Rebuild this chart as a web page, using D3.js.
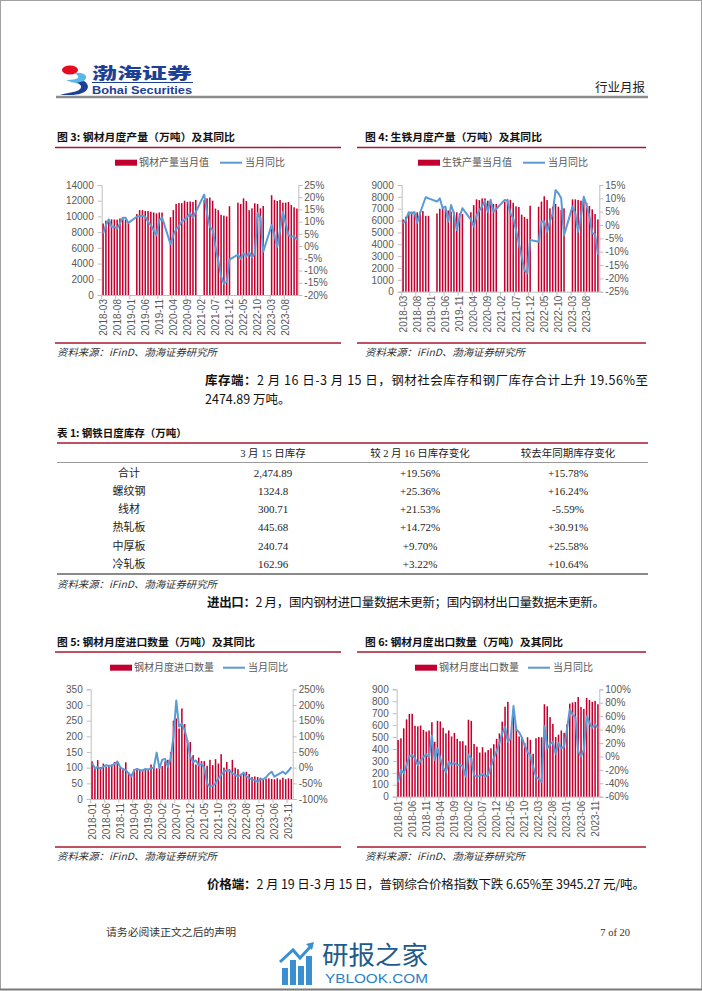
<!DOCTYPE html>
<html>
<head>
<meta charset="utf-8">
<script src="https://cdn.jsdelivr.net/npm/d3@7"></script>
<style>
body { margin: 0; background: #fff; }
svg { display: block; }
</style>
</head>
<body>
<svg id="page" width="702" height="991"></svg>
<script>
// ---- data ----
// fig 3: steel products output, 2018-03 .. 2023-12 (Jan/Feb not published)
const steelOutStart = [2018, 3];
const steelOut = [
  9100, 9460, 9630, 9630, 9600, 9600, 9750, 9900, 9600, 9300,
  null, null, 10300, 10800, 10800, 10700, 10700, 10600, 10500, 10400, 10500, 10500,
  null, null, 9900, 10800, 11600, 11700, 11700, 12000, 11850, 11900, 11850, 12100,
  null, null, 12100, 12300, 12400, 12000, 11000, 10800, 10200, 10100, 10000, 11300,
  null, null, 11750, 11580, 12300, 11970, 10800, 11030, 11670, 11580, 11030, 11330,
  null, null, 12700, 12100, 11960, 12100, 11750, 11750, 11840, 11450, 11160, 11000
];
const steelOutYoy = [
  5.2, 8.6, 10.9, 7.9, 7.9, 7.2, 9.3, 11.6, 11.6, 9.5,
  null, null, 12.0, 12.2, 12.4, 12.0, 10.0, 8.5, 6.5, 4.5, 10.6, 11.7,
  null, null, 0.8, 4.5, 6.8, 8.2, 10.0, 10.9, 12.0, 13.4, 11.7, 14.0,
  null, null, 21.1, 13.4, 7.9, 6.5, -0.3, -5.7, -12.5, -15.3, -14.6, -5.5,
  null, null, -3.5, -5.2, -3.0, -4.2, -2.5, -4.6, -3.0, 13.4, 11.7, -2.3,
  null, null, 8.6, 4.5, -0.3, 6.5, 14.0, 9.3, 4.5, 3.8, 4.1, 2.5
];

// fig 4: pig iron output
const ironOutStart = [2018, 3];
const ironOut = [
  6100, 6330, 6600, 6750, 6750, 6700, 6750, 6800, 6400, 6400,
  null, null, 6600, 7000, 7030, 7000, 6850, 6750, 6750, 6700, 6600, 6550,
  null, null, 6700, 7300, 7790, 7730, 7870, 7870, 7680, 7600, 7400, 7400,
  null, null, 7600, 7800, 7750, 7500, 7200, 7150, 6500, 6300, 6150, 7250,
  null, null, 7170, 7600, 8050, 7730, 7030, 7170, 7400, 7170, 6890, 7030,
  null, null, 7790, 7790, 7730, 7680, 7680, 7500, 7230, 6950, 6550, 6100
];
const ironOutYoy = [
  0.6, 1.9, 4.8, 4.4, 4.8, 0.9, 4.4, 7.5, 10.4, 10.0,
  null, null, 8.8, 10.0, 6.3, 6.9, 1.3, 7.5, 4.4, -1.9, 3.1, 6.3,
  null, null, 2.0, -0.5, 3.5, 5.5, 7.0, 9.0, 5.0, 9.5, 5.0, 6.0,
  null, null, 9.4, 9.1, 4.4, 2.5, -1.9, -6.9, -11.9, -16.9, -18.1, -5.6,
  null, null, -6.3, 1.3, 1.3, -2.5, 1.3, 4.4, 13.1, 11.9, 10.0, -3.8,
  null, null, 6.9, 4.4, -2.5, 3.1, 10.6, 7.5, 3.0, -3.0, -3.5, -11.0
];

// fig 5: steel imports, 2018-01 .. 2023-12
const importStart = [2018, 1];
const imports = [
  120, 100, 124, 102, 113, 103, 108, 110, 118, 120, 100, 98,
  117, 85, 80, 95, 97, 93, 90, 95, 95, 110, 105, 98,
  100, 105, 120, 125, 150, 250, 257, 225, 289, 239, 188, 182,
  140, 110, 132, 121, 121, 106, 125, 108, 127, 113, 143, 100,
  118, 95, 125, 100, 95, 80, 82, 87, 80, 70, 72, 70,
  68, 62, 65, 66, 64, 63, 66, 62, 68, 63, 66, 64
];
const importsYoy = [
  15, -2, 2, -3, 3, 8, 6, 6, 12, 20, 2, -5,
  -8, -18, -28, -8, -4, -7, -9, -4, -6, -2, 0, 48,
  -2, 25, 28, 3, 30, 99, 214, 131, 141, 120, 83, 35,
  18, 23, 8, 12, 0, -50, -61, -58, -50, -34, -23, -13,
  -8, -10, -18, -23, -28, -23, -16, -28, -33, -38, -40, -45,
  -37, -37, -31, -20, -13, -29, -23, -18, -13, -20, -10, 2
];

// fig 6: steel exports
const exportStart = [2018, 1];
const exports = [
  475, 489, 573, 648, 693, 695, 594, 590, 597, 560, 545, 555,
  624, 460, 636, 631, 578, 531, 555, 505, 535, 485, 465, 465,
  430, 645, 635, 442, 419, 370, 415, 372, 391, 405, 440, 485,
  531, 629, 754, 795, 527, 687, 566, 505, 495, 449, 498, 476,
  360, 490, 500, 498, 775, 757, 667, 611, 500, 520, 555, 535,
  605, 780, 790, 794, 836, 752, 736, 828, 810, 795, 803, 775
];
const exportsYoy = [
  -38, -20, -25, -13, 0, 2, -3, -13, -6, -1, 3, -1,
  31, -5, 12, -3, -17, -23, -8, -12, -10, -13, -12, -15,
  -30, 2, -3, -28, -30, -29, -26, -30, -28, -15, -2, 8,
  20, 34, 44, 22, 27, 75, 40, 36, 28, 16, 6, 2,
  -16, -30, -34, -38, 45, 12, 18, 22, 4, 20, 12, 15,
  40, 70, 62, 58, 8, 0, 10, 60, 50, 43, 48, 42
];

// table 1
const tableHead = ["", "3 月 15 日库存", "较 2 月 16 日库存变化", "较去年同期库存变化"];
const tableNames = ["合计", "螺纹钢", "线材", "热轧板", "中厚板", "冷轧板"];
const tableStock = ["2,474.89", "1324.8", "300.71", "445.68", "240.74", "162.96"];
const tableChgMoM = ["+19.56%", "+25.36%", "+21.53%", "+14.72%", "+9.70%", "+3.22%"];
const tableChgYoY = ["+15.78%", "+16.24%", "-5.59%", "+30.91%", "+25.58%", "+10.64%"];

// ---- page ----
const svg = d3.select("#page");
const CN = "'Noto Sans CJK SC', sans-serif";
const SANS = "'Liberation Sans', Arial, 'Noto Sans CJK SC', sans-serif";
const SERIF = "'Liberation Serif', 'Noto Sans CJK SC', serif";
const barColor = "#c2002f", lineColor = "#5b9bd5", ruleRed = "#a8172f";
const axisColor = "#bfbfbf", tickText = "#595959";

function months(start, n) {
  const out = [];
  for (let i = 0; i < n; i++) {
    const k = start[1] - 1 + i;
    out.push((start[0] + Math.floor(k / 12)) + "-" + String(k % 12 + 1).padStart(2, "0"));
  }
  return out;
}
function pct(v) { return Math.round(v * 100) + "%"; }

svg.append("rect").attr("x", 0.5).attr("y", 0.5).attr("width", 701).attr("height", 989)
  .attr("fill", "#fff").attr("stroke", "#a0a0a0");

// header logo
const logo = svg.append("g");
logo.append("ellipse").attr("cx", 70).attr("cy", 70).attr("rx", 8).attr("ry", 4.5).attr("fill", "#e50d1d");
logo.append("path").attr("d", "M74,73 C86,71 90,78 82,82 C78,84 72,83 66,80 C72,80 80,79 78,76 C77,74 75,74 74,73 Z").attr("fill", "#59b8e8");
logo.append("path").attr("d", "M84,81 C92,86 88,95 70,95 L60,95 C70,92 82,92 81,86 C80,84 78,83 76,83 Z").attr("fill", "#1c3f95");
logo.append("text").attr("x", 92).attr("y", 79).attr("textLength", 100).attr("lengthAdjust", "spacingAndGlyphs")
  .attr("font-family", CN).attr("font-weight", 900).attr("font-size", 15.5).attr("fill", "#1d3f94").text("渤海证券");
logo.append("line").attr("x1", 92).attr("x2", 193).attr("y1", 82.5).attr("y2", 82.5).attr("stroke", "#1d3f94").attr("stroke-width", 1);
logo.append("text").attr("x", 92).attr("y", 94).attr("textLength", 100).attr("lengthAdjust", "spacingAndGlyphs")
  .attr("font-family", SANS).attr("font-weight", 700).attr("font-size", 11).attr("fill", "#1d3f94").text("Bohai Securities");
svg.append("text").attr("x", 645).attr("y", 92).attr("text-anchor", "end")
  .attr("font-family", CN).attr("font-size", 12.5).attr("fill", "#222").text("行业月报");
svg.append("line").attr("x1", 56).attr("x2", 648).attr("y1", 97).attr("y2", 97).attr("stroke", "#8c8c8c").attr("stroke-width", 2.5);

function drawChart(c) {
  const g = svg.append("g");
  const cats = months(c.start, c.bars.length);

  // title and rules
  g.append("text").attr("x", c.titleX).attr("y", c.titleY).attr("textLength", c.titleW).attr("lengthAdjust", "spacingAndGlyphs")
    .attr("font-family", CN).attr("font-weight", 700).attr("font-size", 10.5).attr("fill", "#111").text(c.title);
  g.append("line").attr("x1", c.ruleX0).attr("x2", c.ruleX1).attr("y1", c.titleY + 6.5).attr("y2", c.titleY + 6.5)
    .attr("stroke", ruleRed).attr("stroke-width", 1.5);
  g.append("line").attr("x1", c.ruleX0).attr("x2", c.ruleX1).attr("y1", c.srcY - 13).attr("y2", c.srcY - 13)
    .attr("stroke", ruleRed).attr("stroke-width", 1.5);
  g.append("text").attr("x", c.titleX).attr("y", c.srcY).attr("textLength", 160).attr("lengthAdjust", "spacingAndGlyphs")
    .attr("font-family", CN).attr("font-style", "italic").attr("font-size", 10).attr("fill", "#333")
    .text("资料来源：iFinD、渤海证券研究所");

  // legend
  const ly = c.legendY;
  g.append("rect").attr("x", c.legend[0]).attr("y", ly - 3).attr("width", 22).attr("height", 6).attr("fill", barColor);
  g.append("text").attr("x", c.legend[0] + 24).attr("y", ly + 3.6).attr("font-family", CN).attr("font-size", 10)
    .attr("fill", tickText).text(c.barName);
  g.append("line").attr("x1", c.legend[1]).attr("x2", c.legend[1] + 22).attr("y1", ly).attr("y2", ly)
    .attr("stroke", lineColor).attr("stroke-width", 2);
  g.append("text").attr("x", c.legend[1] + 25).attr("y", ly + 3.6).attr("font-family", CN).attr("font-size", 10)
    .attr("fill", tickText).text(c.lineName);

  // scales
  const x = d3.scaleBand().domain(cats).range([c.left, c.right]);
  const yL = d3.scaleLinear().domain(c.leftDomain).range([c.bottom, c.top]);
  const yR = d3.scaleLinear().domain(c.rightDomain).range([c.bottom, c.top]);
  const bw = x.bandwidth(), barW = bw * 0.55;

  // axes
  const axL = g.append("g").attr("transform", `translate(${c.left},0)`)
    .call(d3.axisLeft(yL).tickValues(c.leftTicks).tickSize(4).tickPadding(4).tickFormat(d3.format("d")));
  const axR = g.append("g").attr("transform", `translate(${c.right},0)`)
    .call(d3.axisRight(yR).tickValues(c.rightTicks).tickSize(4).tickPadding(2).tickFormat(pct));
  [axL, axR].forEach(a => {
    a.select(".domain").attr("stroke", axisColor);
    a.selectAll(".tick line").attr("stroke", axisColor);
    a.selectAll(".tick text").attr("fill", tickText).attr("font-family", SANS).attr("font-size", 10);
  });

  g.append("line").attr("x1", c.left).attr("x2", c.right).attr("y1", c.bottom + 0.5).attr("y2", c.bottom + 0.5)
    .attr("stroke", axisColor);
  const labelled = cats.filter((d, i) => i % 5 === 0);
  g.selectAll(".xt").data(labelled).enter().append("line")
    .attr("x1", d => x(d)).attr("x2", d => x(d)).attr("y1", c.bottom).attr("y2", c.bottom + 4)
    .attr("stroke", axisColor);
  g.selectAll(".xl").data(labelled).enter().append("text")
    .attr("transform", d => `translate(${x(d) + bw / 2 + 3.5},${c.bottom + 4}) rotate(-90)`)
    .attr("text-anchor", "end").attr("font-family", SANS).attr("font-size", 10).attr("fill", tickText)
    .text(d => d);

  // bars
  const rows = cats.map((d, i) => ({ cat: d, bar: c.bars[i], yoy: c.line[i] }));
  g.selectAll(".bar").data(rows.filter(d => d.bar != null)).enter().append("rect")
    .attr("x", d => x(d.cat) + (bw - barW) / 2).attr("width", barW)
    .attr("y", d => yL(d.bar)).attr("height", d => c.bottom - yL(d.bar))
    .attr("fill", barColor);

  // yoy line
  g.append("path").datum(rows.filter(d => d.yoy != null))
    .attr("fill", "none").attr("stroke", lineColor).attr("stroke-width", 2).attr("stroke-linejoin", "round")
    .attr("d", d3.line().x(d => x(d.cat) + bw / 2).y(d => yR(d.yoy / 100)));
}

drawChart({
  title: "图 3: 钢材月度产量（万吨）及其同比", titleX: 57, titleY: 141, titleW: 178, ruleX0: 55, ruleX1: 341,
  srcY: 356, legendY: 162.7, legend: [115, 220], barName: "钢材产量当月值", lineName: "当月同比",
  start: steelOutStart, bars: steelOut, line: steelOutYoy,
  left: 101.7, right: 298.3, top: 185, bottom: 295,
  leftDomain: [0, 14000], leftTicks: d3.range(0, 14001, 2000),
  rightDomain: [-0.2, 0.25], rightTicks: d3.range(-4, 6).map(k => k * 0.05)
});
drawChart({
  title: "图 4: 生铁月度产量（万吨）及其同比", titleX: 365, titleY: 141, titleW: 177, ruleX0: 357, ruleX1: 646,
  srcY: 356, legendY: 162.7, legend: [418, 523], barName: "生铁产量当月值", lineName: "当月同比",
  start: ironOutStart, bars: ironOut, line: ironOutYoy,
  left: 401.7, right: 599.3, top: 185, bottom: 291.7,
  leftDomain: [0, 9000], leftTicks: d3.range(0, 9001, 1000),
  rightDomain: [-0.25, 0.15], rightTicks: d3.range(-5, 4).map(k => k * 0.05)
});
drawChart({
  title: "图 5: 钢材月度进口数量（万吨）及其同比", titleX: 57, titleY: 645.5, titleW: 198, ruleX0: 55, ruleX1: 341,
  srcY: 860, legendY: 667.7, legend: [110, 223], barName: "钢材月度进口数量", lineName: "当月同比",
  start: importStart, bars: imports, line: importsYoy,
  left: 90.7, right: 292.7, top: 689.3, bottom: 799,
  leftDomain: [0, 350], leftTicks: d3.range(0, 351, 50),
  rightDomain: [-1, 2.5], rightTicks: d3.range(-2, 6).map(k => k * 0.5)
});
drawChart({
  title: "图 6: 钢材月度出口数量（万吨）及其同比", titleX: 365, titleY: 645.5, titleW: 198, ruleX0: 357, ruleX1: 646,
  srcY: 860, legendY: 667.7, legend: [415, 528], barName: "钢材月度出口数量", lineName: "当月同比",
  start: exportStart, bars: exports, line: exportsYoy,
  left: 396.7, right: 599.3, top: 689.3, bottom: 796.7,
  leftDomain: [0, 900], leftTicks: d3.range(0, 901, 100),
  rightDomain: [-0.6, 1.0], rightTicks: d3.range(-3, 6).map(k => k * 0.2)
});

// body text
function para(x, y, w, bold, rest) {
  const t = svg.append("text").attr("x", x).attr("y", y).attr("font-family", CN).attr("font-size", 12.5).attr("fill", "#111");
  if (w) t.attr("textLength", w).attr("lengthAdjust", "spacing");
  if (bold) t.append("tspan").attr("font-weight", 700).text(bold);
  t.append("tspan").text(rest);
}
para(205, 385, 443, "库存端：", "2 月 16 日-3 月 15 日，钢材社会库存和钢厂库存合计上升 19.56%至");
para(205, 404, null, null, "2474.89 万吨。");
para(207, 607, 398, "进出口：", "2 月，国内钢材进口量数据未更新；国内钢材出口量数据未更新。");
para(207, 889, 438, "价格端：", "2 月 19 日-3 月 15 日，普钢综合价格指数下跌 6.65%至 3945.27 元/吨。");

// table 1
const tb = svg.append("g");
tb.append("text").attr("x", 57).attr("y", 437).attr("font-family", CN).attr("font-weight", 700).attr("font-size", 10.5)
  .attr("fill", "#111").text("表 1: 钢铁日度库存（万吨）");
tb.append("line").attr("x1", 57).attr("x2", 648).attr("y1", 443).attr("y2", 443).attr("stroke", ruleRed).attr("stroke-width", 1.5);
tb.append("line").attr("x1", 57).attr("x2", 648).attr("y1", 462.5).attr("y2", 462.5).attr("stroke", "#9a9a9a").attr("stroke-width", 1);
tb.append("line").attr("x1", 57).attr("x2", 648).attr("y1", 574).attr("y2", 574).attr("stroke", "#8a8a8a").attr("stroke-width", 2);
const colX = [129, 273, 420, 568];
tb.selectAll(".th").data(tableHead).enter().append("text")
  .attr("x", (d, i) => colX[i]).attr("y", 457).attr("text-anchor", "middle")
  .attr("font-family", SERIF).attr("font-size", 10.5).attr("fill", "#222").text(d => d);
const rowY = d3.scalePoint().domain(tableNames).range([476.5, 568]);
const tableCols = [tableNames, tableStock, tableChgMoM, tableChgYoY];
tableCols.forEach((col, ci) => {
  tb.selectAll(".c" + ci).data(col).enter().append("text")
    .attr("x", colX[ci]).attr("y", (d, i) => rowY(tableNames[i])).attr("text-anchor", "middle")
    .attr("font-family", SERIF).attr("font-size", 11).attr("fill", "#222").text(d => d);
});
tb.append("text").attr("x", 57).attr("y", 588).attr("textLength", 160).attr("lengthAdjust", "spacingAndGlyphs")
  .attr("font-family", CN).attr("font-style", "italic").attr("font-size", 10).attr("fill", "#333")
  .text("资料来源：iFinD、渤海证券研究所");

// footer
svg.append("text").attr("x", 106).attr("y", 936).attr("textLength", 130).attr("lengthAdjust", "spacingAndGlyphs")
  .attr("font-family", CN).attr("font-size", 10).attr("fill", "#333").text("请务必阅读正文之后的声明");
svg.append("text").attr("x", 630).attr("y", 936).attr("text-anchor", "end")
  .attr("font-family", SERIF).attr("font-size", 10.5).attr("fill", "#333").text("7 of 20");

// watermark
const wm = svg.append("g");
[[282, 968, 6, 17], [290, 960, 6, 25], [298, 966, 6, 19], [306, 956, 6, 29]].forEach(b => {
  wm.append("rect").attr("x", b[0]).attr("y", b[1]).attr("width", b[2]).attr("height", b[3]).attr("fill", "#3a8fd0");
});
wm.append("path").attr("d", "M280,962 L293,950 L300,958 L312,945").attr("fill", "none").attr("stroke", "#3a8fd0").attr("stroke-width", 3);
wm.append("path").attr("d", "M306,944 L314,942 L312,950 Z").attr("fill", "#3a8fd0");
wm.append("text").attr("x", 322).attr("y", 964).attr("textLength", 106).attr("lengthAdjust", "spacingAndGlyphs")
  .attr("font-family", CN).attr("font-size", 25).attr("fill", "#1f5a8c").text("研报之家");
wm.append("text").attr("x", 325).attr("y", 983).attr("textLength", 103).attr("lengthAdjust", "spacingAndGlyphs")
  .attr("font-family", SANS).attr("font-size", 13).attr("fill", "#2a7ec4").text("YBLOOK.COM");
svg.append("line").attr("x1", 0).attr("x2", 702).attr("y1", 989.5).attr("y2", 989.5).attr("stroke", "#7a7a7a").attr("stroke-width", 2);
</script>
</body>
</html>
